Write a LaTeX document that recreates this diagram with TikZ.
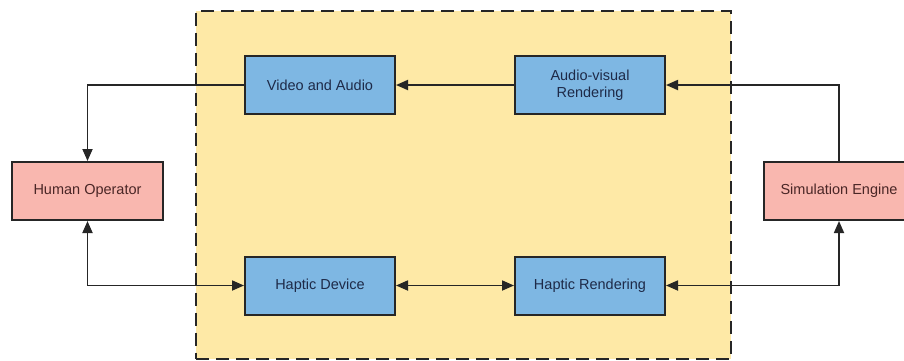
\documentclass[tikz,border=0pt]{standalone}
\usepackage{fontspec}
\setmainfont{Liberation Sans}
\usetikzlibrary{arrows.meta}
\definecolor{zoneyellow}{HTML}{FEE9A6}
\definecolor{boxblue}{HTML}{7EB7E3}
\definecolor{boxpink}{HTML}{F9B7AF}
\definecolor{textblue}{HTML}{1E2A48}
\definecolor{textred}{HTML}{4A2626}
\definecolor{edge}{HTML}{262626}
\begin{document}
\begin{tikzpicture}[x=1pt,y=-1pt,
  bluebox/.style={draw=edge,line width=2pt,fill=boxblue,minimum width=150pt,minimum height=58pt,inner sep=0pt,align=center,font=\fontsize{14.5}{17}\selectfont,text=textblue},
  pinkbox/.style={draw=edge,line width=2pt,fill=boxpink,minimum width=151pt,minimum height=58pt,inner sep=0pt,align=center,font=\fontsize{14.5}{17}\selectfont,text=textred},
  conn/.style={draw=edge,line width=1.8pt,-{Triangle[length=12pt,width=10pt]}},
  biconn/.style={draw=edge,line width=1.8pt,{Triangle[length=12pt,width=10pt]}-{Triangle[length=12pt,width=10pt]}}
]
\useasboundingbox (0,0) rectangle (904,360);
\begin{scope}
\clip (0,0) rectangle (904,360);
\node[draw=edge,line width=2pt,dash pattern=on 13pt off 7pt,fill=zoneyellow,minimum width=535pt,minimum height=348pt,inner sep=0pt] (zone) at (463.5,184.5) {};
\node[bluebox] (va) at (320,85) {Video and Audio};
\node[bluebox] (avr) at (590,85) {Audio-visual\\Rendering};
\node[bluebox] (hd) at (320,285.5) {Haptic Device};
\node[bluebox] (hr) at (590,285.5) {Haptic Rendering};
\node[pinkbox] (ho) at (87.5,191) {Human Operator};
\node[pinkbox] (se) at (839,191) {Simulation Engine};
\end{scope}
\draw[conn] (va.west) -| (ho.north);
\draw[conn] (se.north) |- (avr.east);
\draw[conn] (avr.west) -- (va.east);
\draw[biconn] (ho.south) |- (hd.west);
\draw[biconn] (hd.east) -- (hr.west);
\draw[biconn] (se.south) |- (hr.east);
\end{tikzpicture}
\end{document}
